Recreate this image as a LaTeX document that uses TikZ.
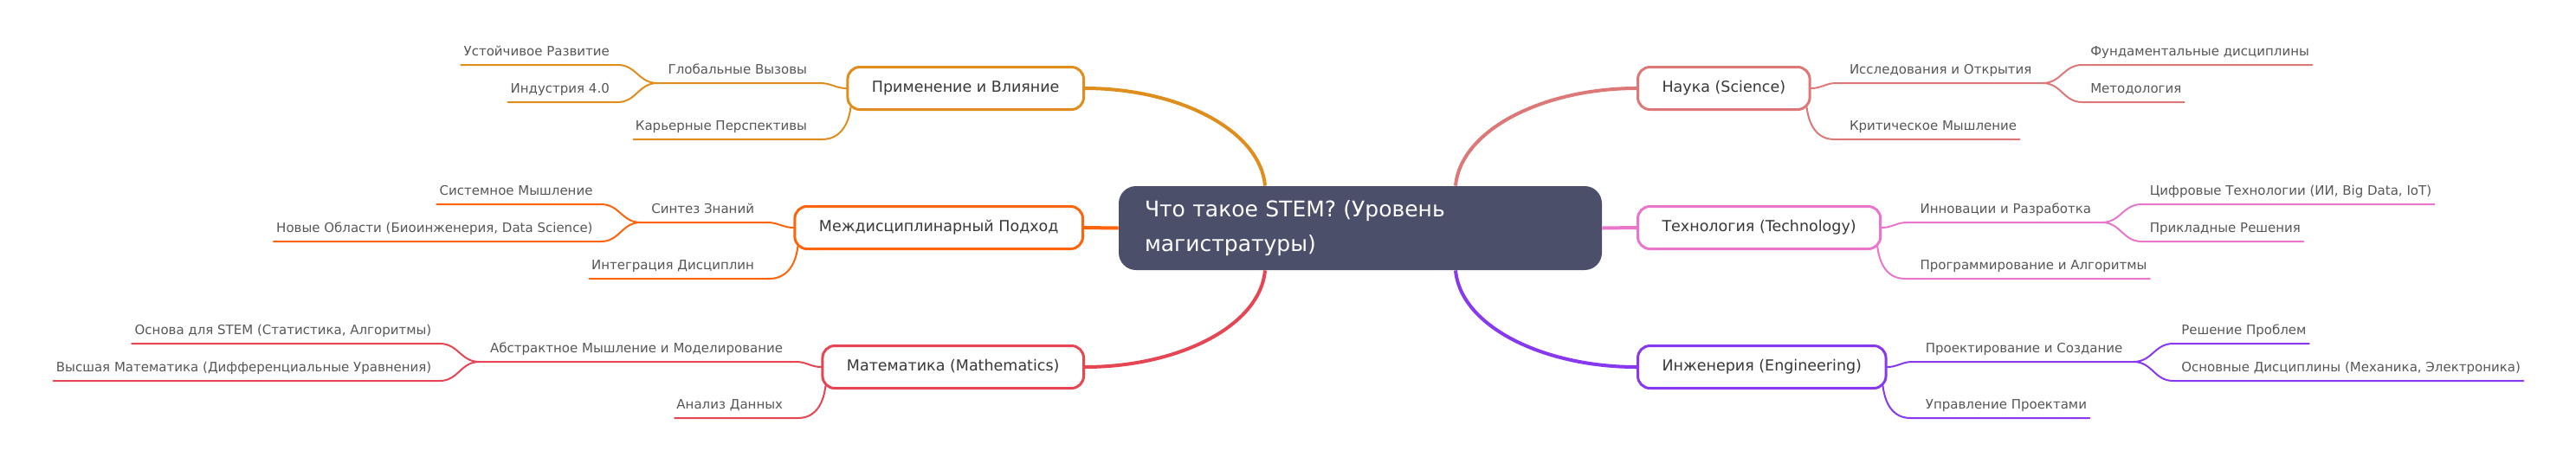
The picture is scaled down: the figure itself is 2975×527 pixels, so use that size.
\documentclass[tikz,border=0pt]{standalone}
\usepackage{fontspec}
\setmainfont{DejaVu Sans}
\usetikzlibrary{arrows.meta}

\definecolor{cApp}{HTML}{DF8E1D}
\definecolor{cInter}{HTML}{FE640B}
\definecolor{cMath}{HTML}{E64553}
\definecolor{cSci}{HTML}{DD7878}
\definecolor{cTech}{HTML}{EA76CB}
\definecolor{cEng}{HTML}{8839EF}
\definecolor{cRoot}{HTML}{4C4F69}
\definecolor{cText}{HTML}{383838}

\newcommand{\lblfont}{\fontsize{7.5pt}{9pt}\selectfont}
\newcommand{\topfont}{\fontsize{8.75pt}{10pt}\selectfont}
\newcommand{\rootfont}{\fontsize{12.5pt}{20pt}\selectfont}

\tikzset{
    root/.style={fill=cRoot, text=white, rounded corners=10pt, font=\rootfont,
        text width=249pt, align=left, inner xsep=15pt, minimum height=48.5pt},
    topic/.style={draw, line width=1.5pt, fill=white, rounded corners=7pt, font=\topfont,
        text=cText, inner xsep=14pt, minimum height=24.5pt, text height=6.4pt, text depth=1.9pt},
    lbl/.style={inner sep=0pt, font=\lblfont, text=cText!85, text height=5.6pt,
        text depth=1.8pt, minimum height=13.5pt},
    lft/.style={lbl, anchor=south east},
    rgt/.style={lbl, anchor=south west},
    l1/.style={line width=2pt},
    l2/.style={line width=1pt, line cap=round},
}

\begin{document}
\begin{tikzpicture}[x=0.5pt, y=-0.5pt]
	\useasboundingbox (0,0) rectangle (2975,527);

	\node[root] (root) at (1571,263.5) {Что такое STEM? (Уровень\\магистратуры)};

	% left side
	\node[topic, draw=cApp, anchor=east] (app) at (1253,102) {Применение и Влияние};
	\node[topic, draw=cInter, anchor=east] (inter) at (1252,263) {Междисциплинарный Подход};
	\node[topic, draw=cMath, anchor=east] (math) at (1253,424) {Математика (Mathematics)};

	% right side
	\node[topic, draw=cSci, anchor=west] (sci) at (1890,102) {Наука (Science)};
	\node[topic, draw=cTech, anchor=west] (tech) at (1890,263) {Технология (Technology)};
	\node[topic, draw=cEng, anchor=west] (eng) at (1890,424) {Инженерия (Engineering)};

	\draw[l1, cApp] (app.east) .. controls +(107,0) and +(-6,-65) .. ([xshift=-55pt]root.north);
	\draw[l1, cInter] (inter.east) -- (root.west);
	\draw[l1, cMath] (math.east) .. controls +(107,0) and +(-6,65) .. ([xshift=-55pt]root.south);
	\draw[l1, cSci] (sci.west) .. controls +(-107,0) and +(6,-65) .. ([xshift=55pt]root.north);
	\draw[l1, cTech] (tech.west) -- (root.east);
	\draw[l1, cEng] (eng.west) .. controls +(-107,0) and +(6,65) .. ([xshift=55pt]root.south);

	% Применение и Влияние
	\node[lft] (glob) at ([xshift=-22.5pt,yshift=3pt]app.west) {Глобальные Вызовы};
	\node[lft] (car) at ([xshift=-22.5pt,yshift=-29.5pt]app.west) {Карьерные Перспективы};
	\draw[l2, cApp] (app.west) .. controls +(-12,0) and +(12,0) .. ([xshift=7.5pt]glob.south east) -- ([xshift=-6pt]glob.south west) coordinate (glob-f);
	\draw[l2, cApp] ([xshift=2.5pt,yshift=2pt]app.south west) .. controls +(-3,24) and +(18,0) .. ([xshift=8.5pt]car.south east) -- ([xshift=-1pt]car.south west);
	\node[lft] (sust) at ([xshift=-27.5pt,yshift=10.5pt]glob-f) {Устойчивое Развитие};
	\node[lft] (ind) at ([xshift=-27.5pt,yshift=-11pt]glob-f) {Индустрия 4.0};
	\draw[l2, cApp] (glob-f) .. controls +(-22,0) and +(22,0) .. ([xshift=4.5pt]sust.south east) -- ([xshift=-1.5pt]sust.south west);
	\draw[l2, cApp] (glob-f) .. controls +(-22,0) and +(22,0) .. ([xshift=4.5pt]ind.south east) -- ([xshift=-1.5pt]ind.south west);

	% Междисциплинарный Подход
	\node[lft] (syn) at ([xshift=-22.5pt,yshift=3pt]inter.west) {Синтез Знаний};
	\node[lft] (integ) at ([xshift=-22.5pt,yshift=-29.5pt]inter.west) {Интеграция Дисциплин};
	\draw[l2, cInter] (inter.west) .. controls +(-12,0) and +(12,0) .. ([xshift=7.5pt]syn.south east) -- ([xshift=-6pt]syn.south west) coordinate (syn-f);
	\draw[l2, cInter] ([xshift=2.5pt,yshift=2pt]inter.south west) .. controls +(-3,24) and +(18,0) .. ([xshift=8.5pt]integ.south east) -- ([xshift=-1pt]integ.south west);
	\node[lft] (sys) at ([xshift=-27.5pt,yshift=10.5pt]syn-f) {Системное Мышление};
	\node[lft] (newf) at ([xshift=-27.5pt,yshift=-11pt]syn-f) {Новые Области (Биоинженерия, Data Science)};
	\draw[l2, cInter] (syn-f) .. controls +(-22,0) and +(22,0) .. ([xshift=4.5pt]sys.south east) -- ([xshift=-1.5pt]sys.south west);
	\draw[l2, cInter] (syn-f) .. controls +(-22,0) and +(22,0) .. ([xshift=4.5pt]newf.south east) -- ([xshift=-1.5pt]newf.south west);

	% Математика (Mathematics)
	\node[lft] (abs) at ([xshift=-22pt,yshift=3pt]math.west) {Абстрактное Мышление и Моделирование};
	\node[lft] (anal) at ([xshift=-22pt,yshift=-29.5pt]math.west) {Анализ Данных};
	\draw[l2, cMath] (math.west) .. controls +(-12,0) and +(12,0) .. ([xshift=7.5pt]abs.south east) -- ([xshift=-6pt]abs.south west) coordinate (abs-f);
	\draw[l2, cMath] ([xshift=2.5pt,yshift=2pt]math.south west) .. controls +(-3,24) and +(18,0) .. ([xshift=8.5pt]anal.south east) -- ([xshift=-1pt]anal.south west);
	\node[lft] (osn) at ([xshift=-27.5pt,yshift=10.5pt]abs-f) {Основа для STEM (Статистика, Алгоритмы)};
	\node[lft] (vys) at ([xshift=-27.5pt,yshift=-11pt]abs-f) {Высшая Математика (Дифференциальные Уравнения)};
	\draw[l2, cMath] (abs-f) .. controls +(-22,0) and +(22,0) .. ([xshift=4.5pt]osn.south east) -- ([xshift=-1.5pt]osn.south west);
	\draw[l2, cMath] (abs-f) .. controls +(-22,0) and +(22,0) .. ([xshift=4.5pt]vys.south east) -- ([xshift=-1.5pt]vys.south west);

	% Наука (Science)
	\node[rgt] (res) at ([xshift=22pt,yshift=3pt]sci.east) {Исследования и Открытия};
	\node[rgt] (crit) at ([xshift=22pt,yshift=-29.5pt]sci.east) {Критическое Мышление};
	\draw[l2, cSci] (sci.east) .. controls +(12,0) and +(-12,0) .. ([xshift=-7.5pt]res.south west) -- ([xshift=6pt]res.south east) coordinate (res-f);
	\draw[l2, cSci] ([xshift=-2.5pt,yshift=2pt]sci.south east) .. controls +(3,24) and +(-18,0) .. ([xshift=-8.5pt]crit.south west) -- ([xshift=1.5pt]crit.south east);
	\node[rgt] (fund) at ([xshift=27.5pt,yshift=10.5pt]res-f) {Фундаментальные дисциплины};
	\node[rgt] (meth) at ([xshift=27.5pt,yshift=-11pt]res-f) {Методология};
	\draw[l2, cSci] (res-f) .. controls +(22,0) and +(-22,0) .. ([xshift=-4.5pt]fund.south west) -- ([xshift=1.5pt]fund.south east);
	\draw[l2, cSci] (res-f) .. controls +(22,0) and +(-22,0) .. ([xshift=-4.5pt]meth.south west) -- ([xshift=1.5pt]meth.south east);

	% Технология (Technology)
	\node[rgt] (inn) at ([xshift=22pt,yshift=3pt]tech.east) {Инновации и Разработка};
	\node[rgt] (prog) at ([xshift=22pt,yshift=-29.5pt]tech.east) {Программирование и Алгоритмы};
	\draw[l2, cTech] (tech.east) .. controls +(12,0) and +(-12,0) .. ([xshift=-7.5pt]inn.south west) -- ([xshift=6pt]inn.south east) coordinate (inn-f);
	\draw[l2, cTech] ([xshift=-2.5pt,yshift=2pt]tech.south east) .. controls +(3,24) and +(-18,0) .. ([xshift=-8.5pt]prog.south west) -- ([xshift=1.5pt]prog.south east);
	\node[rgt] (dig) at ([xshift=27.5pt,yshift=10.5pt]inn-f) {Цифровые Технологии (ИИ, Big Data, IoT)};
	\node[rgt] (appl) at ([xshift=27.5pt,yshift=-11pt]inn-f) {Прикладные Решения};
	\draw[l2, cTech] (inn-f) .. controls +(22,0) and +(-22,0) .. ([xshift=-4.5pt]dig.south west) -- ([xshift=1.5pt]dig.south east);
	\draw[l2, cTech] (inn-f) .. controls +(22,0) and +(-22,0) .. ([xshift=-4.5pt]appl.south west) -- ([xshift=1.5pt]appl.south east);

	% Инженерия (Engineering)
	\node[rgt] (proj) at ([xshift=22pt,yshift=3pt]eng.east) {Проектирование и Создание};
	\node[rgt] (mgmt) at ([xshift=22pt,yshift=-29.5pt]eng.east) {Управление Проектами};
	\draw[l2, cEng] (eng.east) .. controls +(12,0) and +(-12,0) .. ([xshift=-7.5pt]proj.south west) -- ([xshift=6pt]proj.south east) coordinate (proj-f);
	\draw[l2, cEng] ([xshift=-2.5pt,yshift=2pt]eng.south east) .. controls +(3,24) and +(-18,0) .. ([xshift=-8.5pt]mgmt.south west) -- ([xshift=1.5pt]mgmt.south east);
	\node[rgt] (sol) at ([xshift=27.5pt,yshift=10.5pt]proj-f) {Решение Проблем};
	\node[rgt] (core) at ([xshift=27.5pt,yshift=-11pt]proj-f) {Основные Дисциплины (Механика, Электроника)};
	\draw[l2, cEng] (proj-f) .. controls +(22,0) and +(-22,0) .. ([xshift=-4.5pt]sol.south west) -- ([xshift=1.5pt]sol.south east);
	\draw[l2, cEng] (proj-f) .. controls +(22,0) and +(-22,0) .. ([xshift=-4.5pt]core.south west) -- ([xshift=1.5pt]core.south east);
\end{tikzpicture}
\end{document}
